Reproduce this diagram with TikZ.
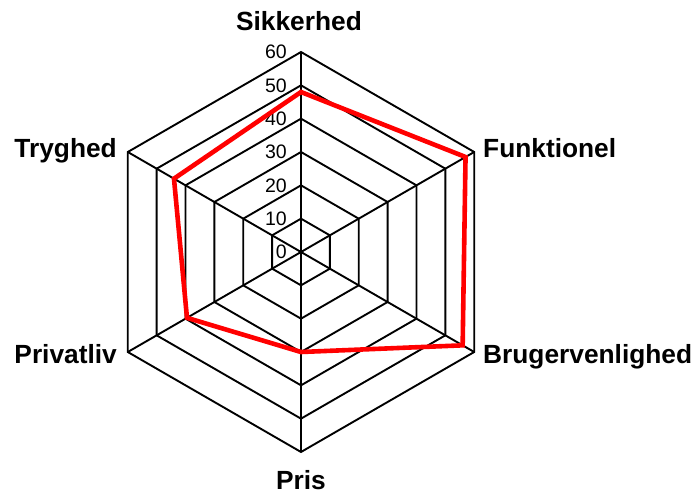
\documentclass[tikz,border=0pt]{standalone}
\usepackage{fontspec}
\setmainfont{Liberation Sans}
\begin{document}
\begin{tikzpicture}[x=1pt,y=1pt,
  gridline/.style={black,line width=1.9pt,line join=miter},
  dataline/.style={red,line width=4.6pt,line join=miter},
  axlabel/.style={font=\fontsize{26.3}{30}\selectfont\bfseries,inner sep=0pt},
  ticklabel/.style={font=\fontsize{19.5}{22}\selectfont,inner sep=0pt,anchor=east}]
\useasboundingbox (-301,-241) rectangle (395,252);
\coordinate (c) at (0,0);
% rings
\foreach \r in {1,...,6}{
  \draw[gridline] (90:\r*33.333) -- (30:\r*33.333) -- (-30:\r*33.333) -- (-90:\r*33.333) -- (-150:\r*33.333) -- (150:\r*33.333) -- cycle;
}
% axes
\foreach \a/\n in {90/a1,30/a2,-30/a3,-90/a4,-150/a5,150/a6}{
  \coordinate (\n) at (\a:200);
  \draw[gridline] (c) -- (\n);
}
% tick labels
\foreach \v in {0,10,...,60}{
  \node[ticklabel] (t\v) at (-14,\v*3.3333) {\v};
}
% data
\coordinate (d1) at (90:48*3.3333);
\coordinate (d2) at (30:57*3.3333);
\coordinate (d3) at (-30:56*3.3333);
\coordinate (d4) at (-90:30*3.3333);
\coordinate (d5) at (-150:39.5*3.3333);
\coordinate (d6) at (150:44*3.3333);
\draw[dataline] (d1) -- (d2) -- (d3) -- (d4) -- (d5) -- (d6) -- cycle;
% axis labels
\node[axlabel,anchor=base] (l1) at (-2,221) {Sikkerhed};
\node[axlabel,anchor=base west] (l2) at (182,95) {Funktionel};
\node[axlabel,anchor=base west] (l3) at (182,-111) {Brugervenlighed};
\node[axlabel,anchor=base] (l4) at (0,-237) {Pris};
\node[axlabel,anchor=base east] (l5) at (-184,-111) {Privatliv};
\node[axlabel,anchor=base east] (l6) at (-184,95) {Tryghed};
\end{tikzpicture}
\end{document}
